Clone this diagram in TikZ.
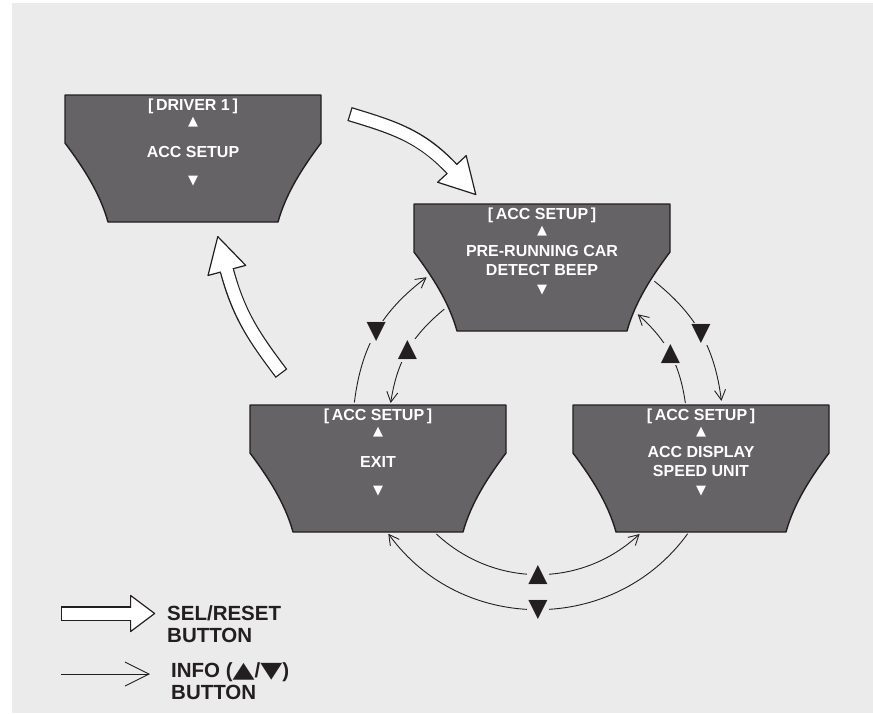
\documentclass[tikz,border=0pt]{standalone}
\usepackage{fontspec}
\setmainfont{Liberation Sans}
\newfontfamily\symfont{DejaVu Sans}
\usetikzlibrary{arrows.meta,shapes.geometric}
\definecolor{bg}{HTML}{EBEBEB}
\definecolor{ink}{HTML}{231F20}
\definecolor{screen}{HTML}{656365}
\newcommand\keytri[1]{\scalebox{1.3}[1]{\symfont\fontsize{22}{21.5}\selectfont #1}}
\tikzset{
  lcd/.style={text=white, font=\bfseries\fontsize{16}{19.5}\selectfont, inner sep=0pt, align=center},
  lcdmark/.style={text=white, font=\symfont\fontsize{13}{13}\selectfont, inner sep=0pt},
  pics/display/.style 2 args={code={
    \draw[fill=screen, draw=ink, line width=1.4pt, line join=round]
      (0,0) -- (256,0) -- (256,48) .. controls (238,72) and (221,98) .. (213,127)
      -- (43,127) .. controls (35,98) and (18,72) .. (0,48) -- cycle;
    \node[lcd, anchor=base] (-title) at (128,15.5) {[\,#1\,]};
    \node[lcdmark] (-up) at (128,27.5) {▲};
    \node[lcd] (-body) at (128,56.5) {#2};
    \node[lcdmark] (-down) at (128,86.5) {▼};
  }},
  info/.style={draw=ink, line width=0.9pt, -{Straight Barb[length=10pt, width=11pt]}},
  upmark/.style={font=\symfont\fontsize{25}{25}\selectfont, text=ink, fill=bg, inner sep=1.5pt},
  downmark/.style={upmark},
  selshaft/.style={draw=ink, line width=14.5pt},
  selcore/.style={draw=white, line width=12pt, shorten <=1.25pt, shorten >=-3pt},
  selhead/.style={shape=isosceles triangle, isosceles triangle stretches, fill=white, draw=ink,
    line width=1.2pt, line join=round, inner sep=0pt, minimum width=39pt, minimum height=35pt,
    pos=1, sloped, allow upside down, anchor=west},
  keytext/.style={text=ink, font=\bfseries\fontsize{20.5}{21.5}\selectfont, align=left, anchor=west, inner sep=0pt}
}
\begin{document}
\begin{tikzpicture}[x=1pt, y=-1pt]
  \useasboundingbox (0,0) rectangle (873,713);
  % backdrop
  \fill[white] (0,0) rectangle (873,713);
  \fill[bg] (12,3) rectangle (873,713);

  % display screens
  \pic (drv)  at (65,95)   {display={DRIVER 1}{ACC SETUP}};
  \pic (pre)  at (414,204) {display={ACC SETUP}{PRE-RUNNING CAR\\DETECT BEEP}};
  \pic (exit) at (250,405) {display={ACC SETUP}{EXIT}};
  \pic (unit) at (573,405) {display={ACC SETUP}{ACC DISPLAY\\SPEED UNIT}};

  % SEL/RESET arrows
  \coordinate (sel1-a) at (349.5,114);
  \coordinate (sel1-b) at (451.5,168.5);
  \draw[selshaft] (sel1-a) to[out=-17, in=133] node[selhead] (sel1) {} (sel1-b);
  \draw[selcore] (sel1-a) to[out=-17, in=133] (sel1-b);
  \coordinate (sel2-a) at (281.5,373.5);
  \coordinate (sel2-b) at (227,271);
  \draw[selshaft] (sel2-a) to[out=127, in=285] node[selhead] (sel2) {} (sel2-b);
  \draw[selcore] (sel2-a) to[out=127, in=285] (sel2-b);

  % INFO arrows round the hub
  \coordinate (hub) at (538,425);
  \foreach \s/\e/\b [count=\i] in {133/47/43, -8.5/-48/20, 231/188.5/21} {
    \coordinate (up\i-a) at ([shift={(\s:149)}]hub);
    \coordinate (up\i-b) at ([shift={(\e:149)}]hub);
    \draw[info] (up\i-a) to[bend right=\b] node[upmark] (up\i) {▲} (up\i-b);
  }
  \foreach \s/\e/\b/\l [count=\i] in {36/144/54/1.07, 187/233/23/1, -51/-7.5/22/1} {
    \coordinate (dn\i-a) at ([shift={(\s:185)}]hub);
    \coordinate (dn\i-b) at ([shift={(\e:185)}]hub);
    \draw[info] (dn\i-a) to[bend left=\b, looseness=\l] node[downmark] (dn\i) {▼} (dn\i-b);
  }

  % legend
  \coordinate (keysel-a) at (61,613.5);
  \coordinate (keysel-b) at (130,613.5);
  \draw[selshaft] (keysel-a) -- node[selhead, minimum width=36pt, minimum height=24pt] (keyselhead) {} (keysel-b);
  \draw[selcore] (keysel-a) -- (keysel-b);
  \node[keytext] (keysel) at (167,624) {SEL/RESET\\BUTTON};
  \coordinate (keyinfo-a) at (61,674);
  \coordinate (keyinfo-b) at (150,674);
  \draw[info, -{Straight Barb[length=24pt, width=24pt]}] (keyinfo-a) -- (keyinfo-b);
  \node[keytext] (keyinfo) at (171,681) {INFO (\keytri{▲}/\keytri{▼})\\BUTTON};
\end{tikzpicture}
\end{document}
